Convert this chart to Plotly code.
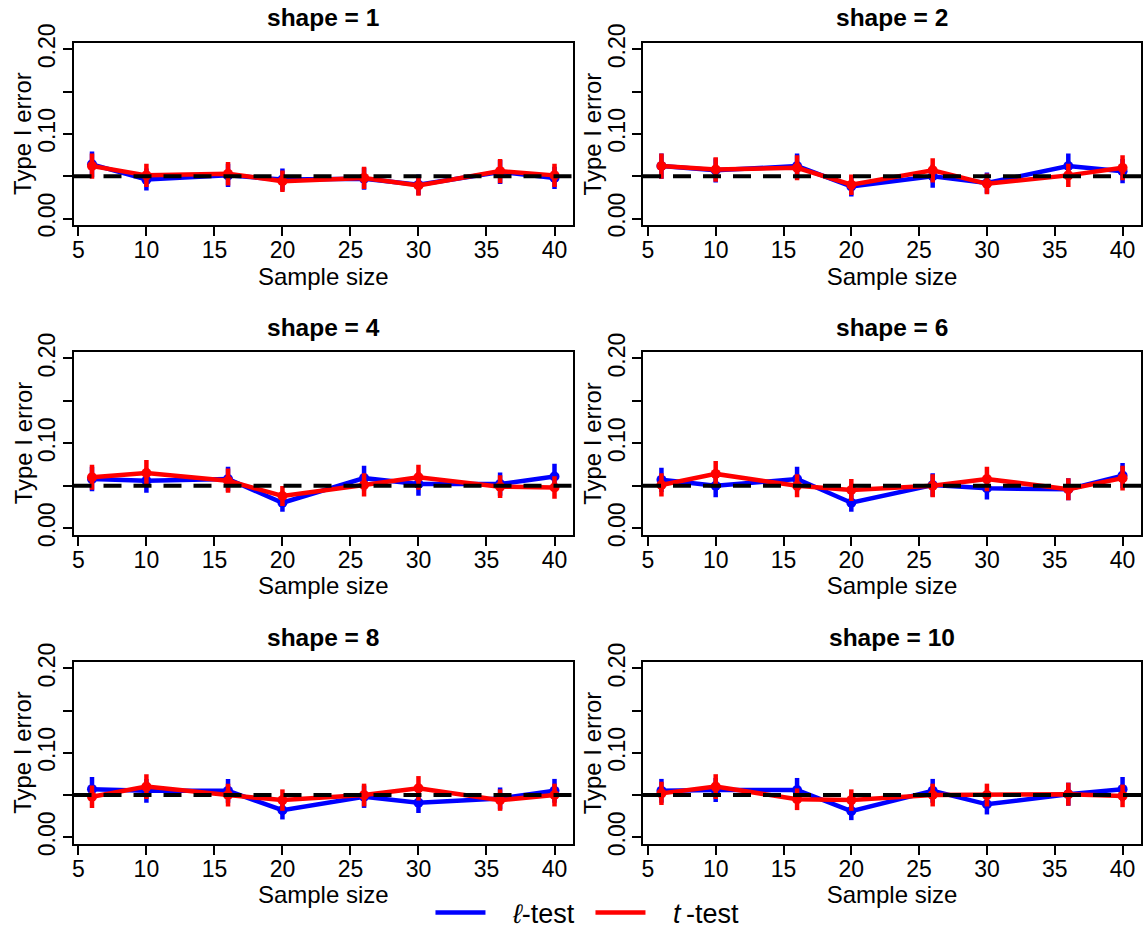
import numpy as np
import plotly.graph_objects as go

# ---------------- data ----------------
sample_sizes = [6, 10, 16, 20, 26, 30, 36, 40]
shape_values = [1, 2, 4, 6, 8, 10]

# l-test (blue)
ell_s1 = [0.064, 0.046, 0.051, 0.046, 0.047, 0.040, 0.055, 0.048]
ell_s2 = [0.062, 0.057, 0.062, 0.038, 0.050, 0.042, 0.062, 0.056]
ell_s4 = [0.058, 0.056, 0.058, 0.030, 0.059, 0.052, 0.052, 0.061]
ell_s6 = [0.057, 0.050, 0.058, 0.030, 0.051, 0.047, 0.046, 0.062]
ell_s8 = [0.057, 0.055, 0.055, 0.032, 0.048, 0.041, 0.046, 0.055]
ell_s10 = [0.055, 0.056, 0.056, 0.031, 0.055, 0.039, 0.051, 0.057]

# t-test (red)
t_s1 = [0.062, 0.051, 0.053, 0.044, 0.048, 0.039, 0.056, 0.051]
t_s2 = [0.062, 0.058, 0.060, 0.040, 0.057, 0.041, 0.051, 0.060]
t_s4 = [0.060, 0.065, 0.056, 0.038, 0.051, 0.060, 0.049, 0.048]
t_s6 = [0.051, 0.064, 0.050, 0.045, 0.050, 0.058, 0.046, 0.059]
t_s8 = [0.048, 0.060, 0.050, 0.044, 0.050, 0.058, 0.044, 0.050]
t_s10 = [0.052, 0.060, 0.045, 0.044, 0.050, 0.050, 0.051, 0.049]

nominal_level = 0.05
n_simulations = 1000  # Monte Carlo replicates behind each proportion

y_tick_vals = [0.0, 0.05, 0.10, 0.15, 0.20]
y_tick_text = ["0.00", "", "0.10", "", "0.20"]
x_tick_vals = [5, 10, 15, 20, 25, 30, 35, 40]

ell_series = [ell_s1, ell_s2, ell_s4, ell_s6, ell_s8, ell_s10]
t_series = [t_s1, t_s2, t_s4, t_s6, t_s8, t_s10]

# ---------------- layout geometry (pixels) ----------------
W, H = 1143, 930
col_px = [(73.5, 573.0), (643.0, 1141.0)]
row_px = [(42.5, 225.3), (351.7, 535.0), (661.7, 844.0)]
ytitle_offset_px = 50.5  # distance from box left edge to y-title centre

BLUE = "#0000FF"
RED = "#FF0000"
FONT = "Liberation Sans, Arial, Helvetica, sans-serif"
NB = "\u00a0"


def ci_halfwidth(p):
    p = np.asarray(p, dtype=float)
    return 1.96 * np.sqrt(p * (1 - p) / n_simulations)


fig = go.Figure()
annotations = []
shapes = []

for i, shp in enumerate(shape_values):
    r, c = divmod(i, 2)
    k = i + 1
    xa = "x" if k == 1 else f"x{k}"
    ya = "y" if k == 1 else f"y{k}"
    xl = "xaxis" if k == 1 else f"xaxis{k}"
    yl = "yaxis" if k == 1 else f"yaxis{k}"

    x0, x1 = col_px[c]
    top, bot = row_px[r]
    xdom = [x0 / W, x1 / W]
    ydom = [1 - bot / H, 1 - top / H]

    for vals, color in ((ell_series[i], BLUE), (t_series[i], RED)):
        fig.add_trace(go.Scatter(
            x=sample_sizes, y=vals, mode="lines+markers",
            line=dict(color=color, width=4.5),
            marker=dict(color=color, size=10),
            error_y=dict(type="data", array=ci_halfwidth(vals), visible=True,
                         color=color, thickness=4.5, width=0),
            showlegend=False, xaxis=xa, yaxis=ya, hoverinfo="x+y"))

    axis_common = dict(showline=True, mirror=True, linecolor="black", linewidth=1.8,
                       ticks="outside", ticklen=9, tickwidth=1.8, tickcolor="black",
                       showgrid=False, zeroline=False, automargin=False,
                       tickfont=dict(family=FONT, size=23, color="black"))
    fig.layout[xl] = dict(domain=xdom, anchor=ya, range=[4.64, 41.36],
                          tickmode="array", tickvals=x_tick_vals,
                          ticklabelstandoff=-6,
                          title=dict(text="Sample size", standoff=0,
                                     font=dict(family=FONT, size=24, color="black")),
                          **axis_common)
    fig.layout[yl] = dict(domain=ydom, anchor=xa, range=[-0.008, 0.208],
                          tickmode="array", tickvals=y_tick_vals, ticktext=y_tick_text,
                          tickangle=-90, ticklabelstandoff=-2,
                          **axis_common)

    shapes.append(dict(type="line", xref=f"{xa} domain", yref=ya,
                       x0=0, x1=1, y0=nominal_level, y1=nominal_level,
                       line=dict(color="black", width=4, dash="18px,12px"),
                       layer="above"))

    annotations.append(dict(text=f"<b>shape = {shp}</b>", xref="paper", yref="paper",
                            x=(xdom[0] + xdom[1]) / 2, y=ydom[1], xanchor="center",
                            yanchor="bottom", yshift=9, showarrow=False,
                            font=dict(family=FONT, size=24.5, color="black")))
    annotations.append(dict(text="Type I error", xref="paper", yref="paper",
                            x=(x0 - ytitle_offset_px) / W, y=(ydom[0] + ydom[1]) / 2,
                            xanchor="center", yanchor="middle", textangle=-90,
                            showarrow=False,
                            font=dict(family=FONT, size=24, color="black")))

# legend entries
fig.add_trace(go.Scatter(x=[None], y=[None], mode="lines",
                         name=NB * 3 + "<i>ℓ</i>-test",
                         line=dict(color=BLUE, width=4.5), showlegend=True))
fig.add_trace(go.Scatter(x=[None], y=[None], mode="lines",
                         name=NB * 3 + "<i>t</i>\u2009-test",
                         line=dict(color=RED, width=4.5), showlegend=True))

fig.update_layout(
    width=W, height=H, margin=dict(l=0, r=0, t=0, b=0, autoexpand=False),
    paper_bgcolor="white", plot_bgcolor="white",
    font=dict(family=FONT, size=22, color="black"),
    annotations=annotations, shapes=shapes,
    legend=dict(orientation="h", x=0.5166, xanchor="center", y=17 / H, yanchor="middle",
                font=dict(family=FONT, size=27, color="black"),
                bgcolor="rgba(0,0,0,0)", itemwidth=50, entrywidth=95),
)

fig.write_html("out.html", config={"displayModeBar": False},
               post_script="document.body.style.margin='0px';")
